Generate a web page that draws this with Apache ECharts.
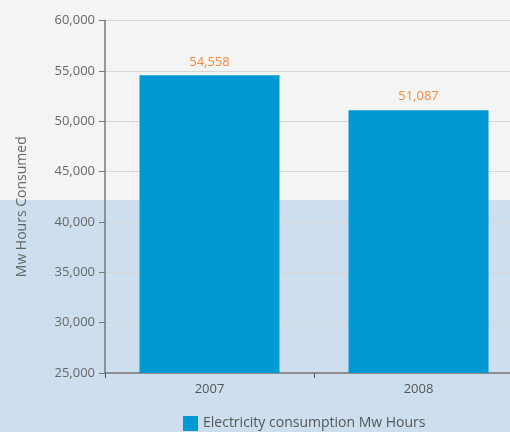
<!DOCTYPE html>
<html><head><meta charset="utf-8">
<script src="https://cdn.jsdelivr.net/npm/echarts@6/dist/echarts.min.js"></script>
<style>html,body{margin:0;padding:0;}#c{width:510px;height:432px;}</style>
</head><body><div id="c"></div>
<script>
var categories = ['2007', '2008'];
var values = [54558, 51087];
var seriesName = 'Electricity consumption Mw Hours';
var yName = 'Mw Hours Consumed';

var chart = echarts.init(document.getElementById('c'));
chart.setOption({
  backgroundColor: '#f3f5f5',
  animation: false,
  textStyle: { fontFamily: 'Open Sans' },
  graphic: [{
    type: 'rect', z: -10, silent: true,
    shape: { x: 0, y: 200, width: 510, height: 232 },
    style: { fill: '#cddfee' }
  }],
  grid: { left: 105, width: 418, top: 20.5, height: 352.5, outerBoundsMode: 'none', containLabel: false },
  legend: {
    bottom: -4, left: 178,
    itemWidth: 15, itemHeight: 15, itemGap: 10,
    textStyle: { color: '#555', fontSize: 14, fontFamily: 'Open Sans' },
    data: [{ name: seriesName, icon: 'rect' }]
  },
  xAxis: {
    type: 'category', data: categories,
    axisLine: { lineStyle: { color: '#777', width: 1.5 } },
    axisTick: { show: true, alignWithLabel: false, length: 5, lineStyle: { color: '#555' } },
    axisLabel: { color: '#555', fontSize: 13, margin: 10 }
  },
  yAxis: {
    type: 'value', min: 25000, max: 60000, interval: 5000,
    name: yName, nameLocation: 'middle', nameGap: 76, nameRotate: 90,
    nameTextStyle: { color: '#666', fontSize: 14, padding: [0, 20, 0, 0] },
    axisLine: { show: true, lineStyle: { color: '#777', width: 1.5 } },
    axisTick: { show: true, length: 6, lineStyle: { color: '#777' } },
    axisLabel: { color: '#666', fontSize: 13, margin: 10,
      formatter: function (v) { return v.toLocaleString('en-US'); } },
    splitLine: { lineStyle: { color: '#d6d6d6' } }
  },
  series: [{
    name: seriesName, type: 'bar', data: values,
    barWidth: 140,
    itemStyle: { color: '#0099d4' },
    label: { show: true, position: 'top', distance: 7, color: '#f7873a', fontSize: 13,
      formatter: function (p) { return p.value.toLocaleString('en-US'); } }
  }]
});
</script></body></html>
